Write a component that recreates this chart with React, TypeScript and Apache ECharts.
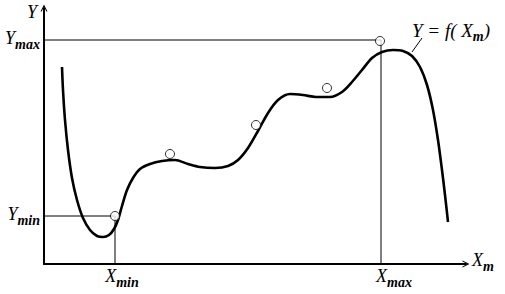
import React, { useEffect, useRef } from "react";
import * as echarts from "echarts";

// Curve Y = f(Xm) (x: 0..422 along X axis, y: 0..256 up the Y axis)
const curveX = [18, 19, 21, 24, 28, 33, 39, 46, 53, 59, 65, 70, 74, 78, 83, 89, 96, 106, 118, 131, 144, 156, 171, 184, 194, 204, 214, 224, 234, 246, 259, 272, 286, 298, 308, 318, 328, 338, 349, 359, 368, 376, 383, 389, 394, 398, 401, 404];
const curveY = [197, 174, 144, 114, 86, 64, 46, 34, 28, 27, 29, 35, 44, 58, 74, 86, 95, 100, 103, 104, 100, 97, 96, 98, 104, 116, 133, 151, 164, 170, 169, 167, 167, 172, 182, 194, 206, 212, 214, 213, 208, 197, 179, 154, 124, 94, 69, 42];

// Small circle markers on the curve
const markX = [71, 126, 212, 283, 336];
const markY = [48, 110, 139, 176, 223];

// Extremum reference values
const xMin = 71;
const yMin = 48;
const xMax = 337;
const yMax = 224;

// Axis extents
const xAxisMax = 422;
const yAxisMax = 256;

// Leader line for the curve label
const leaderX = [368, 378];
const leaderY = [212, 226];

const serif = "'Liberation Serif', 'DejaVu Serif', serif";

const richStyles = {
  a: { fontFamily: serif, fontSize: 18, fontStyle: "italic", color: "#000", verticalAlign: "top", lineHeight: 22 },
  b: { fontFamily: serif, fontSize: 14, fontStyle: "italic", fontWeight: "bold", color: "#000", verticalAlign: "bottom", lineHeight: 22 },
  s1: { width: 14 },
  s2: { width: 26 },
};

export default function App() {
  const ref = useRef<HTMLDivElement>(null);
  useEffect(() => {
    if (!ref.current) return;
    const chart = echarts.init(ref.current, undefined, { renderer: "svg" });
    const arrow = "path://M5,0 L10,10 L8.4,10 L5,3.2 L1.6,10 L0,10 Z";
    const option: any = {
      animation: false,
      backgroundColor: "#fff",
      grid: { left: 44, right: 39, top: 8, bottom: 30 },
      xAxis: {
        type: "value",
        min: 0,
        max: xAxisMax,
        name: "{a|X}{b|m}",
        nameLocation: "end",
        nameGap: 6,
        nameTextStyle: { align: "left", verticalAlign: "middle", padding: [0, 0, 4, 0], rich: richStyles },
        axisLine: { show: true, lineStyle: { color: "#000", width: 2 }, symbol: ["none", arrow], symbolSize: [9, 7] },
        axisTick: { show: false },
        splitLine: { show: false },
        axisLabel: {
          customValues: [xMin, xMax],
          margin: 3,
          formatter: (v: number) => (v === xMin ? "{s1|}{a|X}{b|min}" : "{s2|}{a|X}{b|max}"),
          rich: richStyles,
        },
      },
      yAxis: {
        type: "value",
        min: 0,
        max: yAxisMax,
        name: "{a|Y}",
        nameLocation: "end",
        nameGap: 5,
        nameTextStyle: { align: "right", verticalAlign: "top", padding: [0, 7, 0, 0], rich: richStyles },
        axisLine: { show: true, lineStyle: { color: "#000", width: 2 }, symbol: ["none", arrow], symbolSize: [9, 7] },
        axisTick: { show: false },
        splitLine: { show: false },
        axisLabel: {
          customValues: [yMin, yMax],
          margin: 4,
          formatter: (v: number) => (v === yMin ? "{a|Y}{b|min}" : "{a|Y}{b|max}"),
          rich: richStyles,
        },
      },
      series: [
        {
          type: "line",
          data: [[0, yMax], [xMax, yMax], [xMax, 0]],
          symbol: "none",
          lineStyle: { color: "#000", width: 1 },
          silent: true,
        },
        {
          type: "line",
          data: [[0, yMin], [xMin, yMin], [xMin, 0]],
          symbol: "none",
          lineStyle: { color: "#000", width: 1 },
          silent: true,
        },
        {
          type: "line",
          data: leaderX.map((x, i) => [x, leaderY[i]]),
          symbol: "none",
          lineStyle: { color: "#000", width: 1 },
          silent: true,
        },
        {
          type: "line",
          data: curveX.map((x, i) => [x, curveY[i]]),
          symbol: "none",
          smooth: 0.3,
          lineStyle: { color: "#000", width: 2.6 },
          silent: true,
        },
        {
          type: "scatter",
          data: markX.map((x, i) => [x, markY[i]]),
          symbol: "circle",
          symbolSize: 9,
          itemStyle: { color: "#fff", borderColor: "#000", borderWidth: 1 },
          z: 5,
          silent: true,
        },
      ],
      graphic: [
        {
          type: "text",
          left: 412,
          top: 21,
          style: {
            text: "{a|Y = f( X}{b|m}{a|)}",
            rich: {
              a: { fontFamily: serif, fontSize: 19, fontStyle: "italic", fill: "#000", verticalAlign: "top", lineHeight: 22 },
              b: { fontFamily: serif, fontSize: 14, fontStyle: "italic", fontWeight: "bold", fill: "#000", verticalAlign: "bottom", lineHeight: 22 },
            },
          },
        },
      ],
    };
    chart.setOption(option);
    return () => chart.dispose();
  }, []);
  return <div ref={ref} style={{ position: "fixed", left: 0, top: 0, width: 505, height: 294 }} />;
}
